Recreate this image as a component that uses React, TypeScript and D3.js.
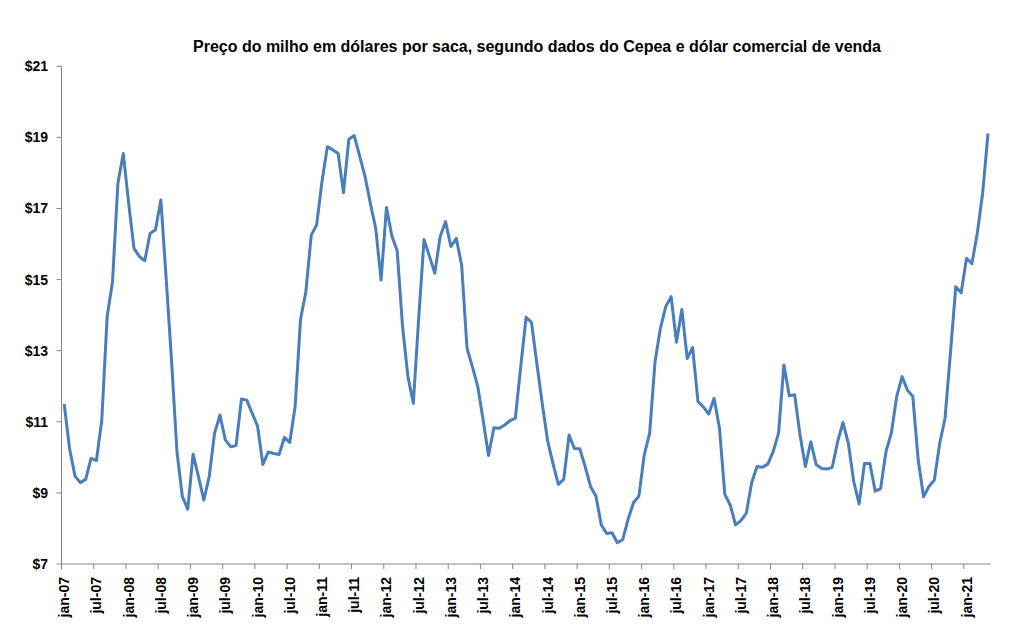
import React from "react";
import * as d3 from "d3";

const title = "Preço do milho em dólares por saca, segundo dados do Cepea e dólar comercial de venda";
const monthNames = ["jan", "fev", "mar", "abr", "mai", "jun", "jul", "ago", "set", "out", "nov", "dez"];
const startYear = 2007;
const yTicks = [7, 9, 11, 13, 15, 17, 19, 21];

// Monthly values, jan-07 .. mai-21
const values = [
  11.50, 10.25, 9.48, 9.29, 9.38, 9.97, 9.91, 11.05, 13.96, 14.94, 17.71, 18.55,
  17.15, 15.88, 15.65, 15.53, 16.30, 16.40, 17.24, 15.00, 12.70, 10.15, 8.90, 8.54,
  10.09, 9.46, 8.80, 9.46, 10.68, 11.19, 10.49, 10.30, 10.33, 11.64, 11.61, 11.24,
  10.88, 9.80, 10.15, 10.11, 10.08, 10.56, 10.42, 11.43, 13.88, 14.66, 16.25, 16.54,
  17.76, 18.74, 18.65, 18.55, 17.45, 18.95, 19.05, 18.48, 17.91, 17.15, 16.44, 14.99,
  17.03, 16.23, 15.81, 13.68, 12.27, 11.52, 13.90, 16.13, 15.66, 15.18, 16.21, 16.63,
  15.93, 16.16, 15.41, 13.07, 12.55, 11.99, 11.05, 10.05, 10.83, 10.82, 10.91, 11.03,
  11.10, 12.55, 13.94, 13.80, 12.64, 11.52, 10.47, 9.83, 9.24, 9.38, 10.63, 10.25,
  10.24, 9.74, 9.18, 8.91, 8.10, 7.86, 7.88, 7.60, 7.69, 8.26, 8.73, 8.91,
  10.07, 10.68, 12.68, 13.63, 14.24, 14.52, 13.24, 14.16, 12.78, 13.09, 11.57, 11.42,
  11.22, 11.66, 10.82, 8.96, 8.66, 8.10, 8.22, 8.43, 9.29, 9.74, 9.72, 9.81,
  10.16, 10.68, 12.60, 11.73, 11.76, 10.63, 9.74, 10.44, 9.80, 9.69, 9.67, 9.72,
  10.44, 10.98, 10.39, 9.32, 8.69, 9.83, 9.83, 9.05, 9.12, 10.16, 10.68, 11.71,
  12.27, 11.89, 11.71, 9.93, 8.89, 9.18, 9.36, 10.39, 11.10, 12.93, 14.80, 14.63,
  15.60, 15.45, 16.30, 17.43, 19.11,
];

const categories = values.map((_, i) => {
  const y = startYear + Math.floor(i / 12);
  return `${monthNames[i % 12]}-${String(y % 100).padStart(2, "0")}`;
});
const tickLabels = categories.filter((_, i) => i % 6 === 0).map((c) => c.replace("fev", "fev"));

const W = 1013;
const H = 632;
const left = 61.5;
const right = 990.7;
const top = 66.3;
const bottom = 564;
const axisColor = "#868686";
const lineColor = "#4a7ebb";
const font = "'Liberation Sans', Arial, sans-serif";

export default function App() {
  const x = d3.scaleBand<string>().domain(categories).range([left, right]).paddingInner(0).paddingOuter(0);
  const y = d3.scaleLinear().domain([7, 21]).range([bottom, top]);
  const line = d3
    .line<number>()
    .x((_, i) => (x(categories[i]) as number) + x.bandwidth() / 2)
    .y((d) => y(d));

  const tickCats = categories.filter((_, i) => i % 6 === 0);

  return (
    <svg width={W} height={H} style={{ position: "absolute", left: 0, top: 0, background: "#fff" }}>
      <rect x={0} y={0} width={W} height={H} fill="#fff" />
      <text
        x={537}
        y={52}
        textAnchor="middle"
        fontFamily={font}
        fontWeight="bold"
        fontSize={16}
        textLength={688}
        lengthAdjust="spacingAndGlyphs"
        fill="#000"
      >
        {title}
      </text>
      {/* y axis */}
      <line x1={left} x2={left} y1={top} y2={bottom} stroke={axisColor} strokeWidth={1} />
      {yTicks.map((t) => (
        <g key={t}>
          <line x1={left - 5} x2={left} y1={y(t)} y2={y(t)} stroke={axisColor} />
          <text
            x={48}
            y={y(t)}
            dy="0.35em"
            textAnchor="end"
            fontFamily={font}
            fontWeight="bold"
            fontSize={14}
            fill="#000"
          >
            {"$" + t}
          </text>
        </g>
      ))}
      {/* x axis */}
      <line x1={left} x2={right} y1={bottom} y2={bottom} stroke={axisColor} strokeWidth={1} />
      {tickCats.map((c, k) => {
        const tx = x(c) as number;
        const cx = tx + x.bandwidth() / 2;
        return (
          <g key={c}>
            <line x1={tx} x2={tx} y1={bottom} y2={bottom + 5} stroke={axisColor} />
            <text
              transform={`translate(${cx + 5},577) rotate(-90)`}
              textAnchor="end"
              fontFamily={font}
              fontWeight="bold"
              fontSize={14}
              fill="#000"
            >
              {tickLabels[k]}
            </text>
          </g>
        );
      })}
      <path d={line(values) || ""} fill="none" stroke={lineColor} strokeWidth={3} strokeLinejoin="round" />
    </svg>
  );
}
